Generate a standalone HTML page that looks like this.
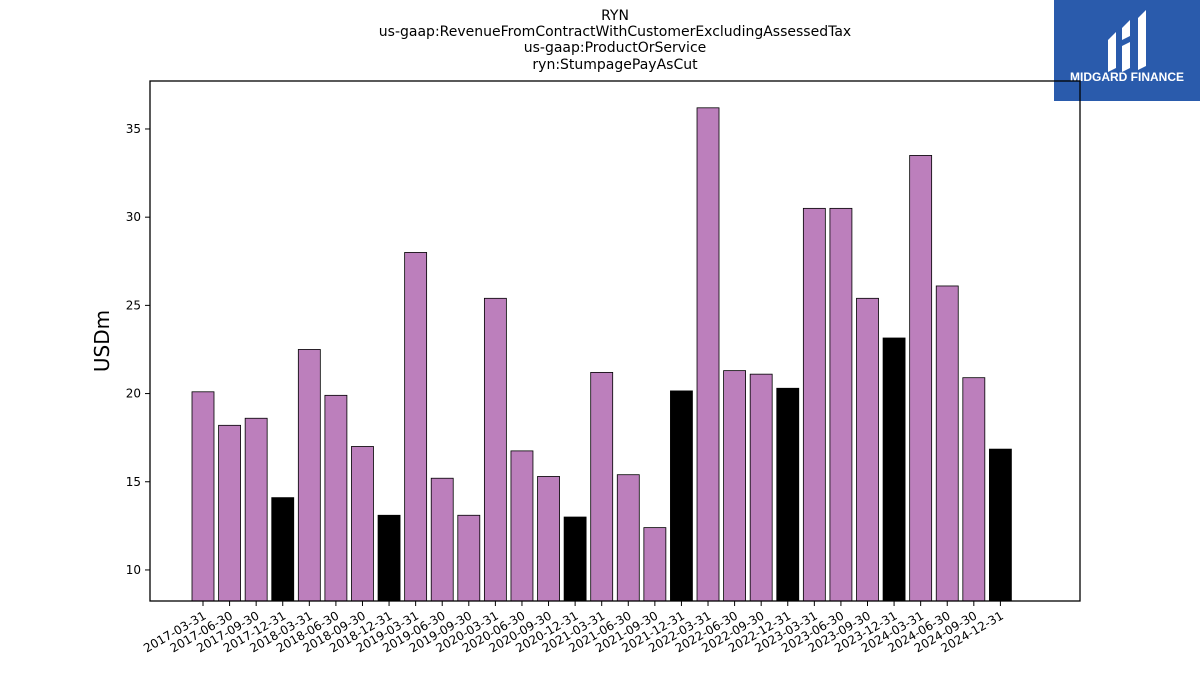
<!DOCTYPE html>
<html><head><meta charset="utf-8"><style>
body{margin:0;background:#fff;font-family:"Liberation Sans","DejaVu Sans",sans-serif}
</style></head><body>
<svg width="1200" height="675" xmlns="http://www.w3.org/2000/svg" id="chart">
<rect width="1200" height="675" fill="#fff"/>
<g font-family="DejaVu Sans, Liberation Sans, sans-serif" font-size="14" text-anchor="middle" fill="#000">
<text x="615" y="20">RYN</text>
<text x="615" y="36">us-gaap:RevenueFromContractWithCustomerExcludingAssessedTax</text>
<text x="615" y="52">us-gaap:ProductOrService</text>
<text x="615" y="69">ryn:StumpagePayAsCut</text>
</g>
<g>
<rect x="1054" y="0" width="146" height="101" fill="#2a5bac"/>
<path d="M1108 40 L1116 32 L1116 68 L1108 72 Z" fill="#fff"/>
<path d="M1122 28 L1130 20 L1130 36 L1122 40 Z M1122 46 L1130 42 L1130 68 L1122 72 Z" fill="#fff"/>
<path d="M1138 18 L1146 10 L1146 66 L1138 70 Z" fill="#fff"/>
<text x="1127" y="81" font-size="12" font-weight="bold" fill="#fff" text-anchor="middle" font-family="Liberation Sans, sans-serif">MIDGARD FINANCE</text>
</g>
<g id="plot"></g>
<text transform="translate(109,341) rotate(-90)" font-size="20" text-anchor="middle" font-family="DejaVu Sans, Liberation Sans, sans-serif">USDm</text>
</svg>
<script>
const categories=["2017-03-31","2017-06-30","2017-09-30","2017-12-31","2018-03-31","2018-06-30","2018-09-30","2018-12-31","2019-03-31","2019-06-30","2019-09-30","2020-03-31","2020-06-30","2020-09-30","2020-12-31","2021-03-31","2021-06-30","2021-09-30","2021-12-31","2022-03-31","2022-06-30","2022-09-30","2022-12-31","2023-03-31","2023-06-30","2023-09-30","2023-12-31","2024-03-31","2024-06-30","2024-09-30","2024-12-31"];
const values=[20.1,18.2,18.6,14.1,22.5,19.9,17.0,13.1,28.0,15.2,13.1,25.4,16.75,15.3,13.0,21.2,15.4,12.4,20.15,36.2,21.3,21.1,20.3,30.5,30.5,25.4,23.15,33.5,26.1,20.9,16.85];
const yTicks=[10,15,20,25,30,35];
const NS="http://www.w3.org/2000/svg";
const L=150,R=1080,T=81,B=601,yMin=8.24,yMax=37.72;
const y=v=>B-(v-yMin)/(yMax-yMin)*(B-T);
const step=26.58,x0=203;
const x=i=>x0+i*step;
const g=document.getElementById('plot');
function mk(t,a){const e=document.createElementNS(NS,t);for(const k in a)e.setAttribute(k,a[k]);g.appendChild(e);return e;}
values.forEach((v,i)=>{
 const black=categories[i].endsWith("12-31");
 const r=mk('rect',{x:x(i)-11,y:y(v),width:22,height:B-y(v),fill:black?'#000':'#bc7fbc',stroke:'#000','stroke-width':0.8});
 
 
 mk('line',{x1:x(i),x2:x(i),y1:B,y2:B+5,stroke:'#000','stroke-width':1});
 const t=mk('text',{transform:`translate(${x(i)+4},${B+17}) rotate(-30)`,'text-anchor':'end','font-size':12,'font-family':'DejaVu Sans, Liberation Sans, sans-serif'});
 t.textContent=categories[i];
 
 
});
yTicks.forEach(v=>{
 mk('line',{x1:L-5,x2:L,y1:y(v),y2:y(v),stroke:'#000','stroke-width':1});
 const t=mk('text',{x:L-9,y:y(v)+4,'text-anchor':'end','font-size':12,'font-family':'DejaVu Sans, Liberation Sans, sans-serif'});
 t.textContent=v;
 
 
});
const f=mk('rect',{x:L,y:T,width:R-L,height:B-T,fill:'none',stroke:'#000','stroke-width':1.3});


</script>
</body></html>
